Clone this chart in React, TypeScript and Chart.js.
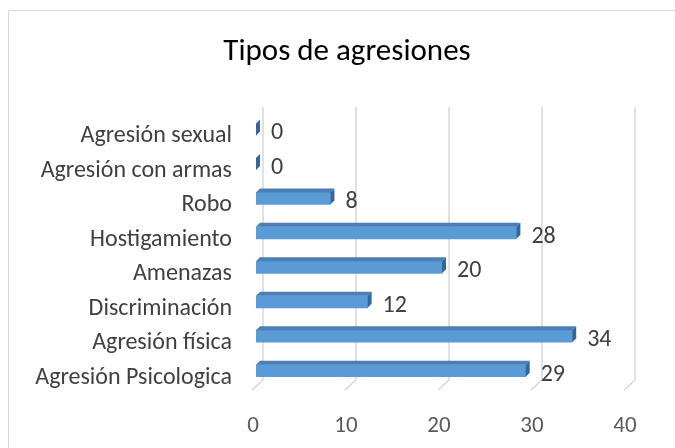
import React, { useEffect, useRef } from "react";
import { Chart, registerables } from "chart.js";

Chart.register(...registerables);

const categories = [
  "Agresión sexual",
  "Agresión con armas",
  "Robo",
  "Hostigamiento",
  "Amenazas",
  "Discriminación",
  "Agresión física",
  "Agresión Psicologica",
];
const values = [0, 0, 8, 28, 20, 12, 34, 29];
const xTicks = [0, 10, 20, 30, 40];
const chartTitle = "Tipos de agresiones";

const FONT = "Carlito, Calibri, Lato, sans-serif";
const FRONT = "#5B9BD5";
const TOP = "#4A7EB5";
const SIDE = "#35669A";
const GRID = "#D9D9D9";
const DEPTH = 4;

const frame3d = {
  id: "frame3d",
  afterLayout(chart: any) {
    // let the category labels extend into the left padding without clipping
    chart.scales.y.left = 0;
  },
  beforeDraw(chart: any) {
    const ctx = chart.ctx;
    ctx.save();
    ctx.fillStyle = "#ffffff";
    ctx.fillRect(0, 0, chart.width, chart.height);
    ctx.strokeStyle = GRID;
    ctx.lineWidth = 1;
    ctx.beginPath();
    ctx.moveTo(8.5, chart.height);
    ctx.lineTo(8.5, 10.5);
    ctx.lineTo(chart.width, 10.5);
    ctx.stroke();
    ctx.restore();
  },
  beforeDatasetsDraw(chart: any) {
    const ctx = chart.ctx;
    const xs = chart.scales.x;
    const area = chart.chartArea;
    const topY = area.top - 5;
    const backBottom = area.bottom - 8;
    const frontBottom = area.bottom + 2;
    ctx.save();
    ctx.strokeStyle = GRID;
    ctx.lineWidth = 1.6;
    xTicks.forEach((v) => {
      const px = xs.getPixelForValue(v);
      ctx.beginPath();
      ctx.moveTo(px + 7, topY);
      ctx.lineTo(px + 7, backBottom);
      ctx.lineTo(px - 4, frontBottom);
      ctx.stroke();
    });
    ctx.restore();
  },
  afterDatasetsDraw(chart: any) {
    const ctx = chart.ctx;
    const meta = chart.getDatasetMeta(0);
    ctx.save();
    meta.data.forEach((bar: any, i: number) => {
      const p = bar.getProps(["x", "y", "base", "height"], true);
      const x0 = p.base;
      const x1 = p.x;
      const top = p.y - p.height / 2;
      const bottom = p.y + p.height / 2;
      if (x1 > x0) {
        ctx.fillStyle = TOP;
        ctx.beginPath();
        ctx.moveTo(x0, top);
        ctx.lineTo(x1, top);
        ctx.lineTo(x1 + DEPTH, top - DEPTH);
        ctx.lineTo(x0 + DEPTH, top - DEPTH);
        ctx.closePath();
        ctx.fill();
      }
      ctx.fillStyle = SIDE;
      ctx.beginPath();
      ctx.moveTo(x1, top);
      ctx.lineTo(x1 + DEPTH, top - DEPTH);
      ctx.lineTo(x1 + DEPTH, bottom - DEPTH);
      ctx.lineTo(x1, bottom);
      ctx.closePath();
      ctx.fill();
      ctx.fillStyle = "#404040";
      ctx.font = `24px ${FONT}`;
      ctx.textAlign = "left";
      ctx.textBaseline = "middle";
      ctx.fillText(String(values[i]), x1 + 15, p.y + 4);
    });
    ctx.restore();
  },
};

export default function App() {
  const ref = useRef<HTMLCanvasElement | null>(null);
  useEffect(() => {
    if (!ref.current) return;
    const chart = new Chart(ref.current, {
      type: "bar",
      data: {
        labels: categories,
        datasets: [
          {
            data: values,
            backgroundColor: FRONT,
            borderWidth: 0,
            barThickness: 12,
          },
        ],
      },
      plugins: [frame3d],
      options: {
        indexAxis: "y",
        animation: false,
        responsive: false,
        maintainAspectRatio: false,
        layout: { padding: { left: 66, right: 47, top: 10, bottom: 0 } },
        plugins: {
          legend: { display: false },
          tooltip: { enabled: false },
          title: {
            display: true,
            text: chartTitle,
            color: "#000000",
            font: { family: FONT, size: 31, weight: "normal" },
            padding: { top: 24, bottom: 41 },
          },
        },
        scales: {
          x: {
            min: 0,
            max: 40,
            ticks: {
              stepSize: 10,
              color: "#595959",
              font: { family: FONT, size: 23 },
              padding: 24,
              labelOffset: -3,
            },
            grid: { display: false, drawTicks: false },
            border: { display: false },
            afterFit(scale: any) {
              scale.height = 60;
            },
          },
          y: {
            ticks: {
              color: "#404040",
              font: { family: FONT, size: 24 },
              padding: 24,
              labelOffset: 7,
            },
            grid: { display: false, drawTicks: false },
            border: { display: false },
            afterFit(scale: any) {
              scale.width = 190;
            },
          },
        },
      },
    } as any);
    return () => chart.destroy();
  }, []);
  return (
    <div style={{ position: "fixed", left: 0, top: 0, width: 675, height: 448 }}>
      <canvas ref={ref} width={675} height={448} style={{ display: "block" }} />
    </div>
  );
}
